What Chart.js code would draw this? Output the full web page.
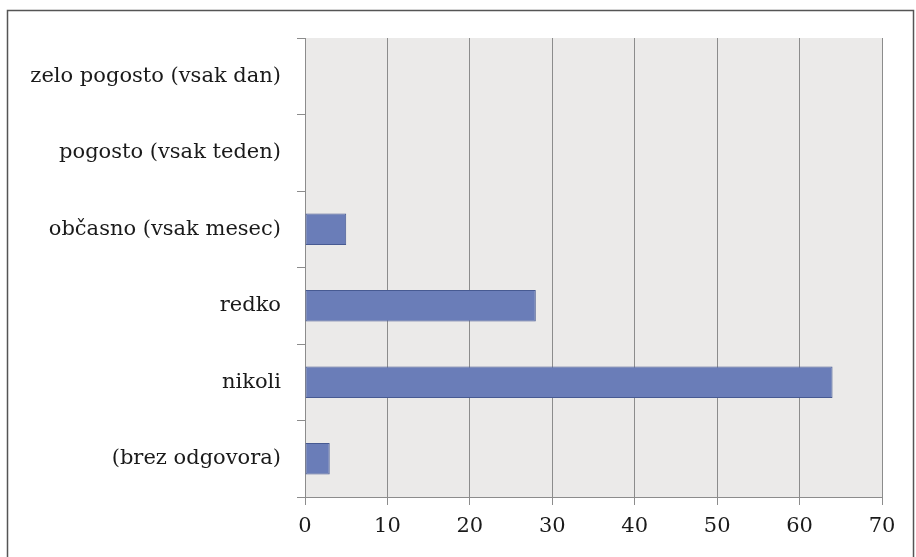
<!DOCTYPE html>
<html>
<head>
<meta charset="utf-8">
<script src="https://cdn.jsdelivr.net/npm/chart.js@4/dist/chart.umd.min.js"></script>
<style>
  html, body { margin: 0; padding: 0; background: #fff; }
  #wrap { width: 916px; height: 557px; position: relative; }
</style>
</head>
<body>
<div id="wrap"><canvas id="myChart" width="916" height="557"></canvas></div>
<script>
var categories = ['zelo pogosto (vsak dan)', 'pogosto (vsak teden)', 'občasno (vsak mesec)', 'redko', 'nikoli', '(brez odgovora)'];
var values = [0, 0, 5, 28, 64, 3];
var xTicks = [0, 10, 20, 30, 40, 50, 60, 70];

var fontFamily = '"DejaVu Serif", serif';

// gray plot area and the outer frame
var decor = {
    id: 'decor',
    beforeDraw: function(chart) {
        var c = chart.ctx, a = chart.chartArea;
        c.save();
        c.fillStyle = '#ebeae9';
        c.fillRect(a.left, a.top, a.right - a.left, a.bottom - a.top);
        c.strokeStyle = '#555';
        c.lineWidth = 1.5;
        c.strokeRect(7.5, 10.5, 906, 560);
        c.restore();
    }
};

var ctx = document.getElementById('myChart').getContext('2d');
var chart = new Chart(ctx, {
    type: 'bar',
    data: {
        labels: categories,
        datasets: [{
            data: values,
            backgroundColor: '#6a7db8',
            borderColor: '#475a92',
            borderWidth: 1,
            borderSkipped: false,
            barPercentage: 0.82,
            categoryPercentage: 0.5
        }]
    },
    plugins: [decor],
    options: {
        indexAxis: 'y',
        responsive: false,
        animation: false,
        layout: { padding: { left: 0, right: 34, top: 38, bottom: 0 } },
        plugins: { legend: { display: false }, tooltip: { enabled: false } },
        scales: {
            x: {
                min: 0,
                max: 70,
                afterBuildTicks: function(scale) {
                    scale.ticks = xTicks.map(function(v) { return { value: v }; });
                },
                afterFit: function(scale) { scale.height = 60; },
                grid: { color: '#8c8c8c', lineWidth: 1, tickLength: 8, drawTicks: true },
                border: { display: true, color: '#8c8c8c' },
                ticks: { color: '#1a1a1a', padding: 9, font: { family: fontFamily, size: 21 } }
            },
            y: {
                afterFit: function(scale) { scale.width = 305; },
                grid: { drawOnChartArea: false, color: '#8c8c8c', tickLength: 8, offset: true },
                border: { display: true, color: '#8c8c8c' },
                ticks: { color: '#1a1a1a', padding: 16, font: { family: fontFamily, size: 21 } }
            }
        }
    }
});
</script>
</body>
</html>
